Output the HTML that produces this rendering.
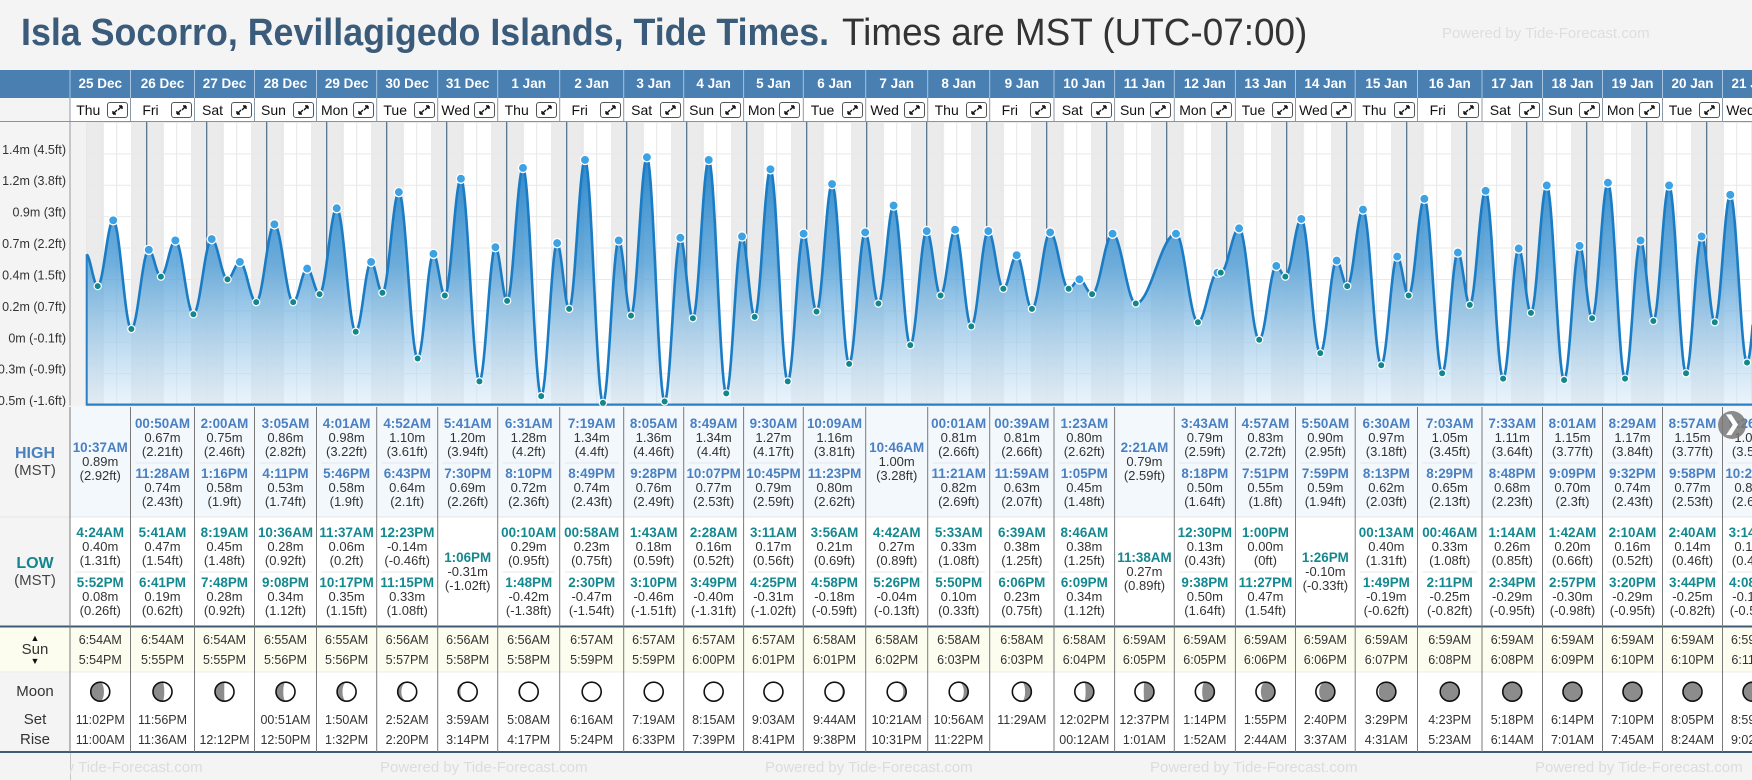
<!DOCTYPE html>
<html><head><meta charset="utf-8">
<style>
html,body{margin:0;padding:0;}
body{width:1752px;height:780px;overflow:hidden;background:#f4f4f4;font-family:"Liberation Sans",sans-serif;position:relative;}
.a{position:absolute;white-space:nowrap;}
.c{text-align:center;}
#title{left:21px;top:12px;font-size:38px;font-weight:bold;color:#3b5b7a;transform-origin:0 0;}
#subtitle{top:12px;font-size:38px;color:#333;transform-origin:0 0;}
</style></head>
<body>
<div class="a" id="title">Isla Socorro, Revillagigedo Islands, Tide Times.</div>
<div class="a" id="subtitle">Times are MST (UTC-07:00)</div>
<div class="a" style="left:1442px;top:25px;font-size:15px;color:#dedede;">Powered by Tide-Forecast.com</div>
<svg id="chart" class="a" style="left:0;top:0" width="1752" height="780"></svg>
<div id="layer" class="a" style="left:0;top:0;width:1752px;height:780px"></div>
<script>
const dayLabels=['25 Dec','26 Dec','27 Dec','28 Dec','29 Dec','30 Dec','31 Dec','1 Jan','2 Jan','3 Jan','4 Jan','5 Jan','6 Jan','7 Jan','8 Jan','9 Jan','10 Jan','11 Jan','12 Jan','13 Jan','14 Jan','15 Jan','16 Jan','17 Jan','18 Jan','19 Jan','20 Jan','21 Jan'];
const weekdayLabels=['Thu','Fri','Sat','Sun','Mon','Tue','Wed','Thu','Fri','Sat','Sun','Mon','Tue','Wed','Thu','Fri','Sat','Sun','Mon','Tue','Wed','Thu','Fri','Sat','Sun','Mon','Tue','Wed'];
const highTimes=[['10:37AM'],['00:50AM','11:28AM'],['2:00AM','1:16PM'],['3:05AM','4:11PM'],['4:01AM','5:46PM'],['4:52AM','6:43PM'],['5:41AM','7:30PM'],['6:31AM','8:10PM'],['7:19AM','8:49PM'],['8:05AM','9:28PM'],['8:49AM','10:07PM'],['9:30AM','10:45PM'],['10:09AM','11:23PM'],['10:46AM'],['00:01AM','11:21AM'],['00:39AM','11:59AM'],['1:23AM','1:05PM'],['2:21AM'],['3:43AM','8:18PM'],['4:57AM','7:51PM'],['5:50AM','7:59PM'],['6:30AM','8:13PM'],['7:03AM','8:29PM'],['7:33AM','8:48PM'],['8:01AM','9:09PM'],['8:29AM','9:32PM'],['8:57AM','9:58PM'],['9:26AM','10:26PM']];
const highMeters=[[0.89],[0.67,0.74],[0.75,0.58],[0.86,0.53],[0.98,0.58],[1.10,0.64],[1.20,0.69],[1.28,0.72],[1.34,0.74],[1.36,0.76],[1.34,0.77],[1.27,0.79],[1.16,0.80],[1.00],[0.81,0.82],[0.81,0.63],[0.80,0.45],[0.79],[0.79,0.50],[0.83,0.55],[0.90,0.59],[0.97,0.62],[1.05,0.65],[1.11,0.68],[1.15,0.70],[1.17,0.74],[1.15,0.77],[1.08,0.81]];
const highFeet=[['2.92'],['2.21','2.43'],['2.46','1.9'],['2.82','1.74'],['3.22','1.9'],['3.61','2.1'],['3.94','2.26'],['4.2','2.36'],['4.4','2.43'],['4.46','2.49'],['4.4','2.53'],['4.17','2.59'],['3.81','2.62'],['3.28'],['2.66','2.69'],['2.66','2.07'],['2.62','1.48'],['2.59'],['2.59','1.64'],['2.72','1.8'],['2.95','1.94'],['3.18','2.03'],['3.45','2.13'],['3.64','2.23'],['3.77','2.3'],['3.84','2.43'],['3.77','2.53'],['3.54','2.66']];
const lowTimes=[['4:24AM','5:52PM'],['5:41AM','6:41PM'],['8:19AM','7:48PM'],['10:36AM','9:08PM'],['11:37AM','10:17PM'],['12:23PM','11:15PM'],['1:06PM'],['00:10AM','1:48PM'],['00:58AM','2:30PM'],['1:43AM','3:10PM'],['2:28AM','3:49PM'],['3:11AM','4:25PM'],['3:56AM','4:58PM'],['4:42AM','5:26PM'],['5:33AM','5:50PM'],['6:39AM','6:06PM'],['8:46AM','6:09PM'],['11:38AM'],['12:30PM','9:38PM'],['1:00PM','11:27PM'],['1:26PM'],['00:13AM','1:49PM'],['00:46AM','2:11PM'],['1:14AM','2:34PM'],['1:42AM','2:57PM'],['2:10AM','3:20PM'],['2:40AM','3:44PM'],['3:14AM','4:08PM']];
const lowMeters=[[0.40,0.08],[0.47,0.19],[0.45,0.28],[0.28,0.34],[0.06,0.35],[-0.14,0.33],[-0.31],[0.29,-0.42],[0.23,-0.47],[0.18,-0.46],[0.16,-0.40],[0.17,-0.31],[0.21,-0.18],[0.27,-0.04],[0.33,0.10],[0.38,0.23],[0.38,0.34],[0.27],[0.13,0.50],[0.00,0.47],[-0.10],[0.40,-0.19],[0.33,-0.25],[0.26,-0.29],[0.20,-0.30],[0.16,-0.29],[0.14,-0.25],[0.13,-0.17]];
const lowFeet=[['1.31','0.26'],['1.54','0.62'],['1.48','0.92'],['0.92','1.12'],['0.2','1.15'],['-0.46','1.08'],['-1.02'],['0.95','-1.38'],['0.75','-1.54'],['0.59','-1.51'],['0.52','-1.31'],['0.56','-1.02'],['0.69','-0.59'],['0.89','-0.13'],['1.08','0.33'],['1.25','0.75'],['1.25','1.12'],['0.89'],['0.43','1.64'],['0','1.54'],['-0.33'],['1.31','-0.62'],['1.08','-0.82'],['0.85','-0.95'],['0.66','-0.98'],['0.52','-0.95'],['0.46','-0.82'],['0.43','-0.56']];
const sunrise=['6:54AM','6:54AM','6:54AM','6:55AM','6:55AM','6:56AM','6:56AM','6:56AM','6:57AM','6:57AM','6:57AM','6:57AM','6:58AM','6:58AM','6:58AM','6:58AM','6:58AM','6:59AM','6:59AM','6:59AM','6:59AM','6:59AM','6:59AM','6:59AM','6:59AM','6:59AM','6:59AM','6:59AM'];
const sunset=['5:54PM','5:55PM','5:55PM','5:56PM','5:56PM','5:57PM','5:58PM','5:58PM','5:59PM','5:59PM','6:00PM','6:01PM','6:01PM','6:02PM','6:03PM','6:03PM','6:04PM','6:05PM','6:05PM','6:06PM','6:06PM','6:07PM','6:08PM','6:08PM','6:09PM','6:10PM','6:10PM','6:11PM'];
const moonSet=['11:02PM','11:56PM','','00:51AM','1:50AM','2:52AM','3:59AM','5:08AM','6:16AM','7:19AM','8:15AM','9:03AM','9:44AM','10:21AM','10:56AM','11:29AM','12:02PM','12:37PM','1:14PM','1:55PM','2:40PM','3:29PM','4:23PM','5:18PM','6:14PM','7:10PM','8:05PM','8:59PM'];
const moonRise=['11:00AM','11:36AM','12:12PM','12:50PM','1:32PM','2:20PM','3:14PM','4:17PM','5:24PM','6:33PM','7:39PM','8:41PM','9:38PM','10:31PM','11:22PM','','00:12AM','1:01AM','1:52AM','2:44AM','3:37AM','4:31AM','5:23AM','6:14AM','7:01AM','7:45AM','8:24AM','9:02AM'];
const moonAge=[5.5,6.5,7.5,8.5,9.5,10.5,11.5,12.5,13.5,14.5,15.5,16.5,17.5,18.5,19.5,20.5,21.5,22.5,23.5,24.5,25.5,26.5,27.5,28.5,0.2,1,2,3];
const yTickLabels=['1.6m (5.3ft)','1.4m (4.5ft)','1.2m (3.8ft)','0.9m (3ft)','0.7m (2.2ft)','0.4m (1.5ft)','0.2m (0.7ft)','0m (-0.1ft)','-0.3m (-0.9ft)','-0.5m (-1.6ft)'];
const yTickMeters=[1.623,1.389,1.155,0.921,0.687,0.453,0.219,-0.015,-0.249,-0.483];
const colLeft=[70,130.5,194.5,254.5,316.5,376.7,437.7,497.7,559.7,623.7,683.7,743.6,803.3,865.7,927.7,989.7,1054,1114.6,1174.3,1235.4,1295.5,1355.2,1417.5,1482,1542.5,1602.5,1662.5,1722.5,1782.5];

const NS='http://www.w3.org/2000/svg';
const svg=document.getElementById('chart');
const layer=document.getElementById('layer');
const X0=86.7, PXD=60, CT=121.7, CB=405.7;
function xOf(t){return X0+PXD*t;}
function yOf(h){return 339.75-134.2*h;}
function mins(s){const m=s.match(/(\d+):(\d+)(AM|PM)/);let h=(+m[1])%12;if(m[3]==='PM')h+=12;return h*60+(+m[2]);}
function mk(tag,attrs,parent){const e=document.createElementNS(NS,tag);for(const k in attrs)e.setAttribute(k,attrs[k]);(parent||svg).appendChild(e);return e;}
function txt(x,y,w,s,style,parent){const d=document.createElement('div');d.className='a c';d.textContent=s;d.style.cssText='left:'+x+'px;top:'+y+'px;width:'+w+'px;'+(style||'');(parent||layer).appendChild(d);return d;}

// title scaling
const t1=document.getElementById('title');t1.style.transform='scaleX('+(808/t1.offsetWidth)+')';
const t2=document.getElementById('subtitle');t2.style.left='842px';t2.style.transform='scaleX('+(465/t2.offsetWidth)+')';

// defs
const defs=mk('defs',{});
const cp=mk('clipPath',{id:'cc'},defs);mk('rect',{x:70,y:CT,width:1682,height:CB-CT},cp);
const lg=mk('linearGradient',{id:'fg',x1:0,y1:150,x2:0,y2:405,gradientUnits:'userSpaceOnUse'},defs);
mk('stop',{offset:'0','stop-color':'#1f7fc6','stop-opacity':'0.95'},lg);
mk('stop',{offset:'0.45','stop-color':'#4c9cd6','stop-opacity':'0.8'},lg);
mk('stop',{offset:'1','stop-color':'#d9ebf8','stop-opacity':'0.55'},lg);
const g=mk('g',{'clip-path':'url(#cc)'});


mk('rect',{x:70,y:CT,width:1682,height:CB-CT,fill:'#ffffff'},g);
mk('rect',{x:70,y:CT,width:X0-70,height:CB-CT,fill:'#f2f2f2'},g);
// night shading
for(let d=-1;d<28;d++){
  const s=d>=0?mins(sunset[d])/1440:0.75;
  const r=(d+1<28)?mins(sunrise[d+1])/1440:0.29;
  const xa=Math.max(xOf(d+s),X0), xb=xOf(d+1+r);
  if(xb<=X0)continue;
  const n=mk('rect',{x:xa,y:CT,width:xb-xa,height:CB-CT,fill:'#ebebeb'},g);
  
  
}
// grid
for(let k=0;k<28*4+4;k++){const x=X0+k*15;mk('line',{x1:x,x2:x,y1:CT,y2:CB,stroke:'#e6e6e6','stroke-width':1},g);}
yTickMeters.forEach(m=>{const y=yOf(m)+0.5;mk('line',{x1:X0,x2:1752,y1:y,y2:y,stroke:'#e9e9e9','stroke-width':1},g);});

// events
const events=[{t:-0.014,h:0.64}];
const highPts=[],lowPts=[];
for(let d=0;d<28;d++){
  highTimes[d].forEach((s,j)=>{const e={t:d+mins(s)/1440,h:highMeters[d][j]};events.push(e);highPts.push(e);});
  lowTimes[d].forEach((s,j)=>{const e={t:d+mins(s)/1440,h:lowMeters[d][j]};events.push(e);lowPts.push(e);});
}
events.sort((a,b)=>a.t-b.t);
function hAt(t){
  for(let i=0;i<events.length-1;i++){const a=events[i],b=events[i+1];
    if(t>=a.t&&t<=b.t){const f=(t-a.t)/(b.t-a.t);return a.h+(b.h-a.h)*(1-Math.cos(Math.PI*f))/2;}}
  return events[events.length-1].h;
}
let pts=[];
for(let x=X0;x<=1753;x+=1){pts.push([x,yOf(hAt((x-X0)/PXD))]);}
// midnight lines
for(let d=1;d<28;d++){const x=xOf(d),y=yOf(hAt(d));
  const l=mk('line',{x1:x,x2:x,y1:CT,y2:y,stroke:'#4d6b87','stroke-width':1.2},g);
  
  
}
let dpath='M'+X0+','+(CB-1)+' '+pts.map(p=>'L'+p[0].toFixed(1)+','+p[1].toFixed(1)).join(' ')+' L1753,'+(CB-1)+' Z';
const area=mk('path',{d:dpath,fill:'url(#fg)',stroke:'none'},g);


const line=mk('path',{d:'M'+pts.map(p=>p[0].toFixed(1)+','+p[1].toFixed(1)).join(' L'),fill:'none',stroke:'#1a7cc4','stroke-width':2.6},g);


mk('line',{x1:X0,x2:1752,y1:CB-1,y2:CB-1,stroke:'#2a80c4','stroke-width':2.5},g);
mk('line',{x1:X0,x2:X0,y1:yOf(hAt(0)),y2:CB,stroke:'#2a80c4','stroke-width':2},g);
highPts.forEach(p=>{const c=mk('circle',{cx:xOf(p.t),cy:yOf(p.h),r:4.6,fill:'#3da2e3',stroke:'#fff','stroke-width':1.3},g);
  
  });
lowPts.forEach(p=>{const c=mk('circle',{cx:xOf(p.t),cy:yOf(p.h),r:3.6,fill:'#13878c',stroke:'#fff','stroke-width':1.2},g);
  
  });

// left axis column
mk('rect',{x:0,y:CT,width:70,height:CB-CT,fill:'#f4f4f4'});
mk('line',{x1:70,x2:70,y1:CT,y2:CB,stroke:'#999','stroke-width':1});
yTickMeters.forEach((m,i)=>{const y=yOf(m)-4;if(y<CT+4)return;
  const t=mk('text',{x:66,y:y+4.5,'text-anchor':'end','font-size':'12.5','font-family':'Liberation Sans, sans-serif',fill:'#333'});
  t.textContent=yTickLabels[i];
  
  });

// table backgrounds
mk('rect',{x:0,y:70,width:1752,height:28,fill:'#4a7fb1'});
mk('rect',{x:70,y:98,width:1682,height:23.7,fill:'#fff'});
mk('rect',{x:0,y:98,width:70,height:23.7,fill:'#f4f4f4'});
mk('line',{x1:0,x2:1752,y1:121.5,y2:121.5,stroke:'#7f95aa','stroke-width':1});
mk('rect',{x:0,y:407,width:70,height:219,fill:'#f4f4f4'});
mk('rect',{x:70,y:407,width:1682,height:110,fill:'#f3f8fd'});
mk('rect',{x:70,y:517,width:1682,height:109,fill:'#fff'});
mk('line',{x1:0,x2:1752,y1:517,y2:517,stroke:'#e6e6e6','stroke-width':1});
mk('rect',{x:0,y:627,width:1752,height:45,fill:'#fcfcef'});
mk('rect',{x:0,y:672,width:70,height:80,fill:'#f4f4f4'});
mk('rect',{x:70,y:672,width:1682,height:80,fill:'#fff'});
mk('line',{x1:0,x2:1752,y1:672,y2:672,stroke:'#ececec','stroke-width':1});
mk('line',{x1:0,x2:1752,y1:626.5,y2:626.5,stroke:'#3f5b76','stroke-width':2});
mk('line',{x1:0,x2:1752,y1:752,y2:752,stroke:'#3f5b76','stroke-width':2});
mk('rect',{x:0,y:753,width:70,height:27,fill:'#f4f4f4'});
mk('line',{x1:70,x2:70,y1:753,y2:780,stroke:'#999','stroke-width':1});
mk('line',{x1:70,x2:70,y1:407,y2:752,stroke:'#777','stroke-width':1});

// footer watermark
[-5,380,765,1150,1535].forEach(x=>{const t=mk('text',{x:x,y:772,'font-size':'15','font-family':'Liberation Sans, sans-serif',fill:'#dcdcdc'});
  t.textContent='Powered by Tide-Forecast.com';
  
  });
mk('rect',{x:0,y:753,width:70,height:27,fill:'#f4f4f4'});

// left labels
const L='font-size:16px;line-height:16px;font-weight:bold;';
let e;
e=txt(0,446,70,'HIGH',L+'color:#4a80bb;');


e=txt(0,463,70,'(MST)','font-size:15px;line-height:15px;color:#444;');


e=txt(0,556,70,'LOW',L+'color:#12858f;');


e=txt(0,573,70,'(MST)','font-size:15px;line-height:15px;color:#444;');


e=txt(0,634,70,'▲<br>','font-size:9px;line-height:9px;color:#111;');
e.innerHTML='▲';


e=txt(0,642,70,'Sun','font-size:15px;line-height:15px;color:#333;');


e=txt(0,657,70,'▼','font-size:9px;line-height:9px;color:#111;');


e=txt(0,684,70,'Moon','font-size:15px;line-height:15px;color:#333;');


e=txt(0,712,70,'Set','font-size:15px;line-height:15px;color:#333;');


e=txt(0,732,70,'Rise','font-size:15px;line-height:15px;color:#333;');



const TS='font-size:13.4px;line-height:14px;font-weight:bold;';
const VS='font-size:13px;line-height:14px;color:#333;';
function entry(x,w,cy,time,m,ft,col,kind){
  let a=txt(x,cy-21,w,time,TS+'color:'+col+';');
  
  
  let b=txt(x,cy-7,w,m.toFixed(2)+'m',VS);
  
  
  let c=txt(x,cy+7,w,'('+ft+'ft)',VS);
  
  
}
for(let i=0;i<28;i++){
  const x=colLeft[i],w=colLeft[i+1]-x,cx=x+w/2;
  // header
  e=txt(x,77,w,dayLabels[i],'font-size:13.5px;line-height:14px;font-weight:bold;color:#fff;');
  
  
  e=txt(x,103,w-24,weekdayLabels[i],'font-size:14px;line-height:15px;color:#111;');
  
  
  const ib=document.createElement('div');ib.className='a';
  ib.style.cssText='left:'+(x+w-24)+'px;top:102px;width:19px;height:14px;border:1px solid #555;border-radius:3px;background:#fff;';
  ib.innerHTML='<svg width="19" height="14"><path d="M5,11 L9,7 M5,11 V8 M5,11 H8 M14,3 L10,7 M14,3 V6 M14,3 H11" stroke="#111" stroke-width="1.4" fill="none"/></svg>';
  layer.appendChild(ib);
  
  
  // separators
  mk('line',{x1:x,x2:x,y1:70,y2:98,stroke:'#a8c4de','stroke-width':1});
  mk('line',{x1:x,x2:x,y1:98,y2:121,stroke:'#8b9aa8','stroke-width':1});
  mk('line',{x1:x,x2:x,y1:407,y2:752,stroke:'#7a7a7a','stroke-width':1});
  // highs
  const hc=highTimes[i].length;
  if(hc===1) entry(x,w,462,highTimes[i][0],highMeters[i][0],highFeet[i][0],'#4a80c2','high');
  else{entry(x,w,437.5,highTimes[i][0],highMeters[i][0],highFeet[i][0],'#4a80c2','high');
    mk('line',{x1:x+5,x2:x+w-5,y1:463,y2:463,stroke:'#e3e8ee','stroke-width':1});
    entry(x,w,487.5,highTimes[i][1],highMeters[i][1],highFeet[i][1],'#4a80c2','high');}
  const lc=lowTimes[i].length;
  if(lc===1) entry(x,w,571.5,lowTimes[i][0],lowMeters[i][0],lowFeet[i][0],'#14888f','low');
  else{entry(x,w,547,lowTimes[i][0],lowMeters[i][0],lowFeet[i][0],'#14888f','low');
    mk('line',{x1:x+5,x2:x+w-5,y1:572,y2:572,stroke:'#e8e8e8','stroke-width':1});
    entry(x,w,596.5,lowTimes[i][1],lowMeters[i][1],lowFeet[i][1],'#14888f','low');}
  // sun
  e=txt(x,633,w,sunrise[i],'font-size:12.5px;line-height:14px;color:#333;');
  
  
  e=txt(x,653,w,sunset[i],'font-size:12.5px;line-height:14px;color:#333;');
  
  
  // moon
  const cy=691.7,r=9.5,p=moonAge[i]/29.53,k=Math.cos(2*Math.PI*p),rx=Math.abs(k)*r;
  const mg=mk('g',{});
  
  
  mk('circle',{cx:cx,cy:cy,r:r,fill:'#8c8c8c'},mg);
  let d;
  if(p<0.5){d='M'+cx+','+(cy-r)+' A'+r+','+r+' 0 0 1 '+cx+','+(cy+r)+' A'+rx+','+r+' 0 0 '+(k>0?0:1)+' '+cx+','+(cy-r)+' Z';}
  else{d='M'+cx+','+(cy-r)+' A'+r+','+r+' 0 0 0 '+cx+','+(cy+r)+' A'+rx+','+r+' 0 0 '+(k>0?1:0)+' '+cx+','+(cy-r)+' Z';}
  if(p>0.02&&p<0.98)mk('path',{d:d,fill:'#fff'},mg);
  mk('circle',{cx:cx,cy:cy,r:r,fill:'none',stroke:'#111','stroke-width':1.6},mg);
  e=txt(x,713,w,moonSet[i],'font-size:12.5px;line-height:14px;color:#333;');
  
  
  e=txt(x,733,w,moonRise[i],'font-size:12.5px;line-height:14px;color:#333;');
  
  
}
// next button
const nb=document.createElement('div');nb.className='a';
nb.style.cssText='left:1718px;top:411px;width:28px;height:28px;border-radius:50%;background:rgba(120,120,120,0.85);color:#fff;font-size:20px;line-height:27px;text-align:center;font-weight:bold;';
nb.textContent='❯';
layer.appendChild(nb);


</script>
</body></html>
